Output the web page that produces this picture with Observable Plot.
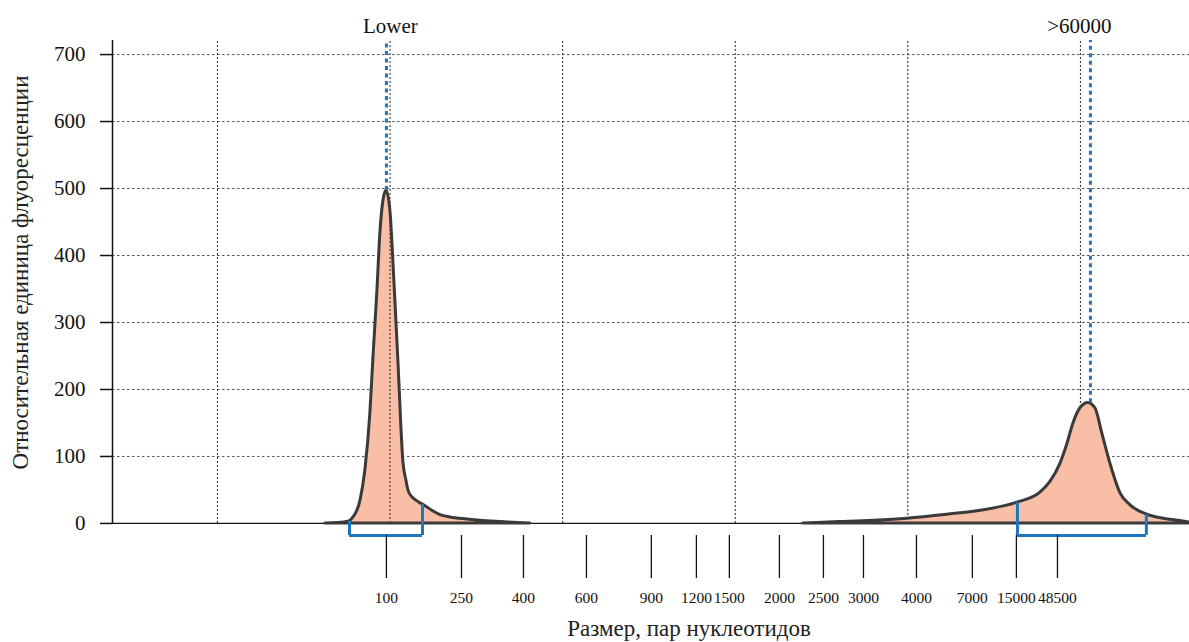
<!DOCTYPE html>
<html><head><meta charset="utf-8">
<script src="https://cdn.jsdelivr.net/npm/d3@7"></script>
<script src="https://cdn.jsdelivr.net/npm/@observablehq/plot@0.6"></script>
<style>
html,body{margin:0;padding:0;background:#fff;}
</style></head><body><div id="chart"></div>
<script>
// Ladder (size standard) positions on the migration-time axis
const ladderSizes = ["100","250","400","600","900","1200","1500","2000","2500","3000","4000","7000","15000","48500"];
const ladderTimes = [49.79, 54.14, 57.73, 61.38, 65.14, 67.75, 69.66, 72.56, 75.11, 77.43, 80.50, 83.74, 86.29, 88.67];
const gridTimes = [40, 50, 60, 70, 80, 90];
const gridValues = [100, 200, 300, 400, 500, 600, 700];
const yTicks = [0, 100, 200, 300, 400, 500, 600, 700];

// Peak 1 (Lower marker)
const time1  = [46.26, 47.0, 47.65, 47.88, 48.29, 48.57, 48.86, 49.04, 49.27, 49.44, 49.62, 49.79, 50.02, 50.20, 50.49, 50.78, 50.95, 51.07, 51.30, 51.59, 51.76, 51.88, 52.51, 52.92, 53.50, 54.48, 56.40, 58.13];
const fluor1 = [0, 0.5, 3, 9, 34, 79, 164, 248, 348, 433, 482, 497, 467, 388, 239, 90, 64, 49, 39, 33, 30, 28.5, 18, 12.5, 9, 6, 2, 0];

// Peak 2 (high molecular weight, >60000 marker)
const time2  = [73.95, 76.0, 78.0, 79.98, 82.29, 84.21, 86.35, 87.68, 88.26, 88.84, 89.25, 89.59, 90.0, 90.46, 90.87, 91.27, 91.74, 92.32, 92.90, 93.88, 94.81, 95.79, 96.32];
const fluor2 = [0, 2, 4, 7, 13, 19, 31, 46, 62, 89, 119, 149, 172, 180, 172, 134, 89, 45, 27, 13, 7, 3.5, 1.5];

const markerLabels = ["Lower", ">60000"];
const markerTimes = [49.79, 90.58];
const markerPeaks = [497, 180];
const markerLabelTimes = [50.02, 89.94];

const bracketStart = [47.65, 86.35];
const bracketEnd = [51.88, 93.82];
const bracketStartValue = [3, 31];
const bracketEndValue = [28.5, 13];

const xTitle = "Размер, пар нуклеотидов";
const yTitle = "Относительная единица флуоресценции";

const xDomain = [33.92, 96.32];
const yDomain = [-18, 721];

const peak1 = time1.map((t, i) => ({t, v: fluor1[i]}));
const peak2 = time2.map((t, i) => ({t, v: fluor2[i]}));
const markers = markerLabels.map((label, i) => ({label, t: markerTimes[i], peak: markerPeaks[i], lt: markerLabelTimes[i]}));
const brackets = bracketStart.map((t1, i) => ({t1, t2: bracketEnd[i], v1: bracketStartValue[i], v2: bracketEndValue[i]}));
const bracketSides = brackets.flatMap(b => [{t: b.t1, v: b.v1}, {t: b.t2, v: b.v2}]);

const FILL = "#f8bfa6", CURVE = "#3a3a3a", BLUE = "#1c76c2";

const chart = Plot.plot({
  width: 1189,
  height: 642,
  marginLeft: 112,
  marginRight: 0,
  marginTop: 40,
  marginBottom: 107,
  style: {fontFamily: "Liberation Serif", fontSize: "15.5px", color: "#111", background: "white"},
  x: {domain: xDomain},
  y: {domain: yDomain},
  marks: [
    Plot.ruleY(gridValues, {stroke: "#555", strokeWidth: 1, strokeDasharray: "2.5,2.5"}),
    Plot.areaY(peak1, {x: "t", y: "v", fill: FILL, curve: "monotone-x"}),
    Plot.ruleX(gridTimes, {y1: 0, y2: yDomain[1], stroke: "#222", strokeWidth: 1, strokeDasharray: "2,2"}),
    Plot.areaY(peak2, {x: "t", y: "v", fill: FILL, curve: "monotone-x"}),
    Plot.ruleY([0], {stroke: "#111", strokeWidth: 1.3}),
    Plot.areaY(peak1, {x: "t", y: "v", fill: "none", stroke: CURVE, strokeWidth: 3, strokeLinejoin: "round", curve: "monotone-x"}),
    Plot.areaY(peak2, {x: "t", y: "v", fill: "none", stroke: CURVE, strokeWidth: 3, strokeLinejoin: "round", curve: "monotone-x"}),
    Plot.ruleX(markers, {x: "t", y1: "peak", y2: yDomain[1], stroke: BLUE, strokeWidth: 3, strokeDasharray: "4,3.5"}),
    Plot.ruleX(bracketSides, {x: "t", y1: "v", y2: yDomain[0], stroke: BLUE, strokeWidth: 3}),
    Plot.ruleY(brackets, {y: yDomain[0], x1: "t1", x2: "t2", stroke: BLUE, strokeWidth: 3}),
    Plot.ruleX([xDomain[0]], {y1: 0, y2: yDomain[1], stroke: "#111", strokeWidth: 1.5}),
    Plot.axisY({ticks: yTicks, tickSize: 12, tickPadding: 15, fontSize: 21, color: "#111", strokeWidth: 1.5, label: null}),
    Plot.axisX({ticks: ladderTimes, tickFormat: d => ladderSizes[ladderTimes.indexOf(d)], tickSize: 43, tickPadding: 13, fontSize: 15.5, color: "#111", strokeWidth: 1.3, label: null}),
    Plot.text(markers, {x: "lt", y: yDomain[1], text: "label", lineAnchor: "bottom", dy: -8, fontSize: 21, fill: "#111"}),
    Plot.text([yTitle], {frameAnchor: "left", rotate: -90, textAnchor: "middle", lineAnchor: "middle", text: d => d, dx: -91.5, dy: -15.5, fontSize: 23, fill: "#222"}),
    Plot.text([xTitle], {frameAnchor: "bottom", textAnchor: "middle", lineAnchor: "middle", text: d => d, dx: 38, dy: 93, fontSize: 23, fill: "#222"})
  ]
});
document.getElementById("chart").append(chart);
</script></body></html>
